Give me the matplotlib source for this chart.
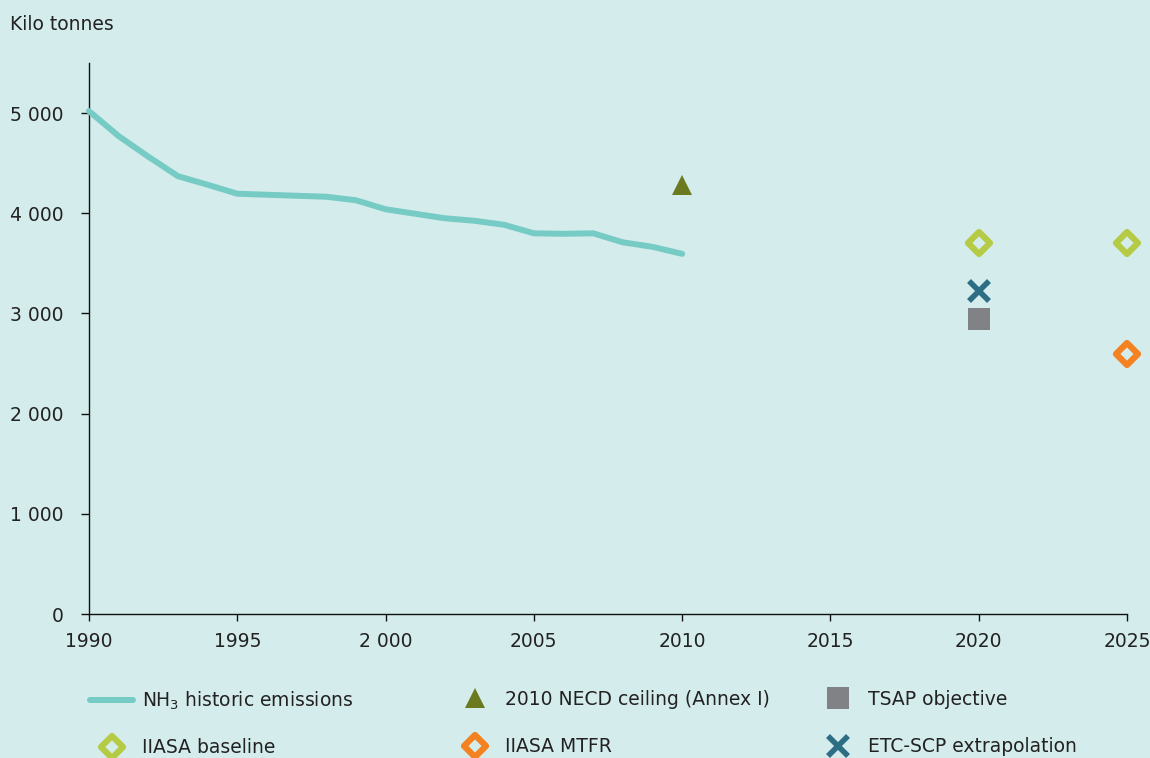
import matplotlib
matplotlib.use("Agg")
import matplotlib.pyplot as plt
from matplotlib.lines import Line2D
from matplotlib.markers import MarkerStyle

# Historic NH3 emissions (kilo tonnes)
years = list(range(1990, 2011))
historic = [5020, 4770, 4565, 4370, 4285, 4195, 4185, 4175, 4165, 4130,
            4040, 3995, 3950, 3925, 3885, 3800, 3795, 3800, 3710, 3665, 3595]

necd_year, necd_value = 2010, 4285
tsap_year, tsap_value = 2020, 2945
etc_year, etc_value = 2020, 3220
baseline_years = [2020, 2025]
baseline_values = [3700, 3700]
mtfr_year, mtfr_value = 2025, 2600

xticks = [1990, 1995, 2000, 2005, 2010, 2015, 2020, 2025]
xtick_labels = ["1990", "1995", "2 000", "2005", "2010", "2015", "2020", "2025"]
yticks = [0, 1000, 2000, 3000, 4000, 5000]
ytick_labels = ["0", "1 000", "2 000", "3 000", "4 000", "5 000"]

BG = "#d5ecec"
LINE = "#76cbc5"
OLIVE = "#6b7a1e"
GREY = "#808285"
TEAL = "#2e6e84"
LGREEN = "#b5cb45"
ORANGE = "#f58220"
TXT = "#222222"
FS = 13.5

plt.rcParams["font.family"] = ["DejaVu Sans"]
plt.rcParams["font.size"] = FS

fig = plt.figure(figsize=(11.5, 7.58), dpi=100, facecolor=BG)
ax = fig.add_axes([89 / 1150, 1 - 614 / 758, (1127 - 89) / 1150, (614 - 63) / 758])
ax.set_facecolor(BG)

diamond = MarkerStyle("D", joinstyle="round")
xmark = MarkerStyle("x", capstyle="butt")

ax.plot(years, historic, color=LINE, lw=4.3, solid_capstyle="round",
        solid_joinstyle="round", clip_on=False, zorder=3)
ax.plot([necd_year], [necd_value], marker="^", color=OLIVE, ms=15, mew=0, clip_on=False)
ax.plot([tsap_year], [tsap_value], marker="s", color=GREY, ms=15.5, mew=0, clip_on=False)
ax.plot([etc_year], [etc_value], marker=xmark, color=TEAL, ms=14, mew=4, clip_on=False)
ax.plot(baseline_years, baseline_values, marker=diamond, ls="none", mfc=BG, mec=LGREEN,
        ms=11, mew=4.5, clip_on=False)
ax.plot([mtfr_year], [mtfr_value], marker=diamond, mfc=BG, mec=ORANGE, ms=11, mew=4.5,
        clip_on=False)

ax.set_xlim(1990, 2025)
ax.set_ylim(0, 5500)
ax.set_xticks(xticks)
ax.set_xticklabels(xtick_labels)
ax.set_yticks(yticks)
ax.set_yticklabels(ytick_labels)
for s in ["top", "right"]:
    ax.spines[s].set_visible(False)
for s in ["left", "bottom"]:
    ax.spines[s].set_color("#111111")
    ax.spines[s].set_linewidth(1.0)
ax.tick_params(axis="y", length=6, width=1, pad=12, colors="#111111", labelcolor=TXT, labelsize=FS)
ax.tick_params(axis="x", length=5, width=1, pad=8, colors="#111111", labelcolor=TXT, labelsize=FS)

fig.text(10 / 1150, 1 - 25 / 758, "Kilo tonnes", fontsize=FS, color=TXT, va="center", ha="left")

# legend in three fixed columns
h_line = Line2D([], [], color=LINE, lw=4.3, solid_capstyle="round")
h_base = Line2D([], [], marker=diamond, ls="none", mfc=BG, mec=LGREEN, ms=11, mew=4.5)
h_necd = Line2D([], [], marker="^", ls="none", color=OLIVE, ms=15, mew=0)
h_mtfr = Line2D([], [], marker=diamond, ls="none", mfc=BG, mec=ORANGE, ms=11, mew=4.5)
h_tsap = Line2D([], [], marker="s", ls="none", color=GREY, ms=15.5, mew=0)
h_etc = Line2D([], [], marker=xmark, ls="none", color=TEAL, ms=14, mew=4)

cols = [
    ([h_line, h_base], ["NH$_3$ historic emissions", "IIASA baseline"], 90, 1.38),
    ([h_necd, h_mtfr], ["2010 NECD ceiling (Annex I)", "IIASA MTFR"], 453, 1.52),
    ([h_tsap, h_etc], ["TSAP objective", "ETC-SCP extrapolation"], 816, 1.52),
]
for handles, labels, xpx, spacing in cols:
    fig.legend(handles, labels, loc="upper left",
               bbox_to_anchor=(xpx / 1150, 1 - 690 / 758),
               frameon=False, ncol=1, handlelength=2.3, handletextpad=0.48,
               labelspacing=spacing, borderpad=0, borderaxespad=0,
               fontsize=FS, labelcolor=TXT)

fig.savefig("out.png", dpi=100, facecolor=BG)
